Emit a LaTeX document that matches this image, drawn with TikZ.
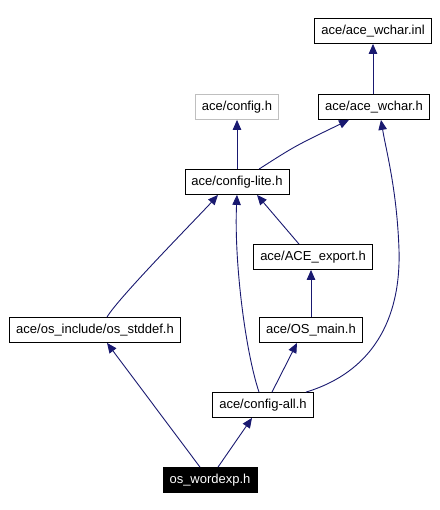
\documentclass[tikz,border=0pt]{standalone}
\usepackage{fontspec}
\setmainfont{Liberation Sans}
\usetikzlibrary{arrows.meta}
\definecolor{edgeblue}{RGB}{25,25,112}
\definecolor{boxgray}{RGB}{191,191,191}

\begin{document}
\begin{tikzpicture}[x=1pt,y=-1pt,
    file/.style={draw=black,line width=0.8pt,fill=white,minimum height=25pt,inner xsep=6.5pt,
                 font=\fontsize{13}{15}\selectfont},
    dep/.style={draw=edgeblue,line width=0.9pt,-{Triangle[length=10pt,width=8.5pt]}}]

    \useasboundingbox (0,0) rectangle (439,510);

    % Headers
    \node[file] at (373,31) (wcharinl) {ace/ace\_wchar.inl};
    \node[file] at (374,107) (wcharh) {ace/ace\_wchar.h};
    \node[file,draw=boxgray] at (237,107) (config) {ace/config.h};
    \node[file] at (237,182) (lite) {ace/config-lite.h};
    \node[file] at (313,257) (export) {ace/ACE\_export.h};
    \node[file] at (95,330) (stddef) {ace/os\_include/os\_stddef.h};
    \node[file] at (311,330) (osmain) {ace/OS\_main.h};
    \node[file] at (263,405) (cfgall) {ace/config-all.h};
    \node[file,fill=black,text=white] at (210,480) (wordexp) {os\_wordexp.h};

    % Includes
    \draw[dep] (wcharh.north -| wcharinl.south) -- (wcharinl.south);
    \draw[dep] (lite.north) -- (config.south);
    \draw[dep] ([xshift=22pt]lite.north) .. controls (295,146) .. ([xshift=-25pt]wcharh.south);
    \draw[dep] ([xshift=-14pt]export.north) -- ([xshift=20pt]lite.south);
    \draw[dep] ([xshift=12pt]stddef.north) .. controls (118,298) and (200,215) .. ([xshift=-19pt]lite.south);
    \draw[dep] ([xshift=-4pt]cfgall.north) .. controls (245,350) and (234,260) .. (lite.south);
    \draw[dep] (osmain.north) -- (osmain.north |- export.south);
    \draw[dep] ([xshift=9pt]cfgall.north) -- ([xshift=-14pt]osmain.south);
    \draw[dep] ([xshift=43pt]cfgall.north) .. controls (372,372) and (401,320) .. (399,250)
        .. controls (397,190) and (386,150) .. ([xshift=7pt]wcharh.south);
    \draw[dep] ([xshift=-10pt]wordexp.north) -- ([xshift=12pt]stddef.south);
    \draw[dep] ([xshift=8pt]wordexp.north) -- ([xshift=-11pt]cfgall.south);

\end{tikzpicture}
\end{document}
